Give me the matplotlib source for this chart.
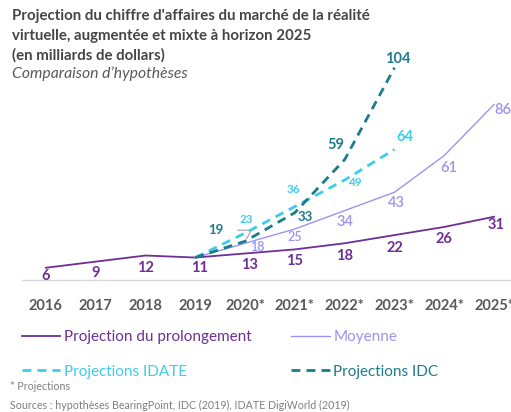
import matplotlib.pyplot as plt

plt.rcParams['font.family'] = ['Lato', 'DejaVu Sans']

years = ['2016', '2017', '2018', '2019', '2020*', '2021*', '2022*', '2023*', '2024*', '2025*']
prolongement = [6, 9, 12, 11, 13, 15, 18, 22, 26, 31]
moyenne = [11, 18, 25, 34, 43, 61, 86]          # 2019 -> 2025
idate = [11, 23, 36, 49, 64]                     # 2019 -> 2023
idc = [11, 19, 33, 59, 104]                      # 2019 -> 2023

c_prol = '#6d2f96'
c_moy = '#9d93f0'
c_idate = '#3dcdec'
c_idc = '#1b7c8a'

fig = plt.figure(figsize=(5.11, 4.12), dpi=100)
ax = fig.add_axes([22 / 511, 132 / 412, 489 / 511, 220 / 412])
ax.set_xlim(-0.48, 9.34)
ax.set_ylim(0, 107.8)

x_all = list(range(len(years)))
x_moy = x_all[3:]
x_proj = x_all[3:8]

dash = (3.2, 2.2)
ax.plot(x_all, prolongement, color=c_prol, lw=1.3, zorder=3)
ax.plot(x_moy, moyenne, color=c_moy, lw=1.0, zorder=3)
ax.plot(x_proj, idate, color=c_idate, lw=2.0, dashes=dash, zorder=4)
ax.plot(x_proj, idc, color=c_idc, lw=2.0, dashes=dash, zorder=5)

# value labels (offsets in pixels)
off_prol = [(0, -8), (0, -11), (0, -12), (4, -10), (4, -12), (0, -12), (0, -13), (0, -13), (0, -12), (2, -8)]
for xi, v, o in zip(x_all, prolongement, off_prol):
    ax.annotate(str(v), (xi, v), xytext=o, textcoords='offset pixels', ha='center', va='center',
                color=c_prol, fontsize=10.5, fontweight='bold')

off_moy = [(12, -4), (0, -8), (0, -11), (2, -11), (4, -12), (9, -6)]
size_moy = [9, 9, 10.5, 10.5, 10.5, 10.5]
for xi, v, o, s in zip(x_moy[1:], moyenne[1:], off_moy, size_moy):
    ax.annotate(str(v), (xi, v), xytext=o, textcoords='offset pixels', ha='center', va='center',
                color=c_moy, fontsize=s, fontweight='semibold')

off_idate = [(1, 14), (-1, 17), (10, -3), (10, 12)]
size_idate = [8.5, 8.5, 8.5, 10.5]
for xi, v, o, s in zip(x_proj[1:], idate[1:], off_idate, size_idate):
    ax.annotate(str(v), (xi, v), xytext=o, textcoords='offset pixels', ha='center', va='center',
                color=c_idate, fontsize=s, fontweight='bold')

off_idc = [(-29, 11), (10, -4), (-9, 15), (3, 9)]
size_idc = [9.5, 9.5, 10.5, 10.5]
for i, (xi, v, o, s) in enumerate(zip(x_proj[1:], idc[1:], off_idc, size_idc)):
    props = None
    if i == 0:
        props = dict(arrowstyle='-', color='#a0a0a0', lw=0.8,
                     connectionstyle='angle,angleA=0,angleB=60,rad=4',
                     shrinkA=8, shrinkB=2)
    ax.annotate(str(v), (xi, v), xytext=o, textcoords='offset pixels', ha='center', va='center',
                color=c_idc, fontsize=s, fontweight='bold', arrowprops=props)

# axes styling
for s in ['top', 'right', 'left']:
    ax.spines[s].set_visible(False)
ax.spines['bottom'].set_color('#d9d9d9')
ax.spines['bottom'].set_linewidth(1.0)
ax.set_yticks([])
ax.set_xticks(x_all)
ax.set_xticklabels(years, fontsize=10.5, fontweight='bold', color='#595959')
ax.tick_params(axis='x', length=0, pad=14)

# titles
title_kw = dict(fontsize=10.8, fontweight='bold', color='#454545', va='center')
fig.text(12 / 511, 1 - 16 / 412, "Projection du chiffre d'affaires du marché de la réalité", **title_kw)
fig.text(12 / 511, 1 - 36 / 412, "virtuelle, augmentée et mixte à horizon 2025", **title_kw)
fig.text(12 / 511, 1 - 55 / 412, "(en milliards de dollars)", **title_kw)
fig.text(12 / 511, 1 - 74 / 412, "Comparaison d\u2019hypothèses",
         fontsize=11.3, style='italic', color='#595959', va='center')

# legend
h_prol, = ax.plot([], [], color=c_prol, lw=1.3)
h_moy, = ax.plot([], [], color=c_moy, lw=1.0)
h_idate, = ax.plot([], [], color=c_idate, lw=2.0, dashes=dash)
h_idc, = ax.plot([], [], color=c_idc, lw=2.0, dashes=dash)
leg = fig.legend([h_prol, h_idate, h_moy, h_idc],
                 ['Projection du prolongement', 'Projections IDATE', 'Moyenne', 'Projections IDC'],
                 ncol=2, loc='upper left', bbox_to_anchor=(22 / 511, 1 - 330 / 412),
                 frameon=False, fontsize=11, handlelength=2.5, handletextpad=0.25,
                 labelspacing=1.35, columnspacing=2.6, borderaxespad=0, borderpad=0)
for t, c in zip(leg.get_texts(), [c_prol, c_idate, c_moy, c_idc]):
    t.set_color(c)

foot_kw = dict(fontsize=7.7, color='#7f7f7f', va='center')
fig.text(10 / 511, 1 - 387 / 412, "* Projections", **foot_kw)
fig.text(10 / 511, 1 - 405 / 412,
         "Sources : hypothèses BearingPoint, IDC (2019), IDATE DigiWorld (2019)", **foot_kw)

fig.savefig('out.png', dpi=100)
